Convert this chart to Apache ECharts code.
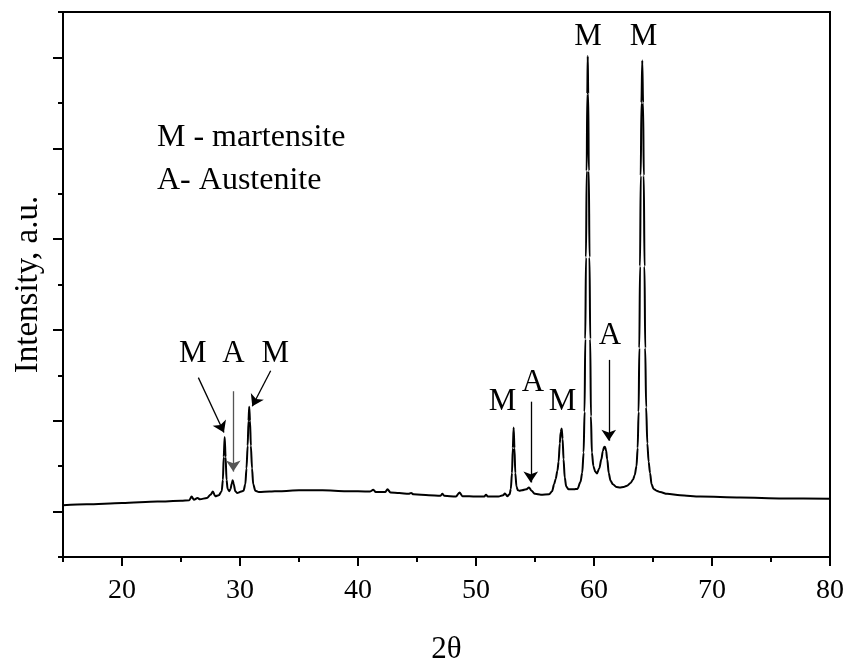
<!DOCTYPE html>
<html>
<head>
<meta charset="utf-8">
<script src="https://cdn.jsdelivr.net/npm/echarts@6/dist/echarts.min.js"></script>
<style>
  html, body { margin: 0; padding: 0; background: #fff; }
  #chart { width: 848px; height: 659px; }
</style>
</head>
<body>
<div id="chart"></div>
<script>
// XRD pattern (2θ in degrees, intensity in arbitrary units)
const twoTheta = [
  15, 17, 20, 23, 25, 25.7, 25.9, 26.1, 26.4, 26.6,
  27.2, 27.5, 27.7, 27.9, 28.2, 28.45, 28.55, 28.62, 28.7, 28.78,
  28.86, 28.95, 29.1, 29.2, 29.3, 29.38, 29.47, 29.6, 29.75, 30.1,
  30.3, 30.45, 30.55, 30.65, 30.72, 30.78, 30.85, 30.92, 31.02, 31.12,
  31.3, 31.6, 32.5, 33.4, 35, 37, 39, 41, 41.3, 41.5,
  42.3, 42.5, 42.75, 43.5, 44.3, 44.5, 44.7, 46, 47, 47.15,
  47.3, 48.3, 48.6, 48.85, 50, 50.7, 50.85, 51, 51.9, 52.3,
  52.45, 52.65, 52.85, 52.95, 53.05, 53.12, 53.19, 53.26, 53.33, 53.43,
  53.55, 53.67, 53.9, 54.25, 54.49, 54.7, 55, 55.5, 56.2, 56.45,
  56.62, 56.75, 56.9, 57, 57.1, 57.18, 57.26, 57.34, 57.42, 57.52,
  57.65, 57.85, 58.3, 58.6, 58.85, 59, 59.12, 59.2, 59.26, 59.32,
  59.38, 59.43, 59.47, 59.51, 59.56, 59.62, 59.68, 59.74, 59.82, 59.95,
  60.1, 60.25, 60.45, 60.62, 60.75, 60.85, 60.93, 61.02, 61.12, 61.25,
  61.4, 61.6, 61.9, 62.2, 62.5, 62.8, 63.1, 63.3, 63.45, 63.6,
  63.7, 63.78, 63.84, 63.9, 63.96, 64.02, 64.09, 64.16, 64.22, 64.28,
  64.34, 64.42, 64.52, 64.63, 64.75, 64.88, 65.05, 65.3, 65.6, 66.2,
  67.3, 69, 72.4, 76, 80
];
const intensity = [
  1.14, 1.16, 1.19, 1.22, 1.24, 1.25, 1.33, 1.26, 1.30, 1.27,
  1.30, 1.37, 1.44, 1.34, 1.36, 1.45, 1.7, 2.2, 2.64, 2.2,
  1.7, 1.5, 1.45, 1.5, 1.62, 1.69, 1.6, 1.45, 1.41, 1.44,
  1.46, 1.6, 1.95, 2.45, 3.0, 3.31, 3.0, 2.45, 1.95, 1.6,
  1.46, 1.43, 1.44, 1.45, 1.47, 1.47, 1.45, 1.44, 1.48, 1.43,
  1.43, 1.49, 1.42, 1.41, 1.39, 1.41, 1.38, 1.36, 1.35, 1.39,
  1.35, 1.33, 1.42, 1.34, 1.33, 1.33, 1.37, 1.33, 1.33, 1.36,
  1.40, 1.34, 1.38, 1.5, 1.85, 2.4, 2.85, 2.4, 1.85, 1.55,
  1.47, 1.46, 1.47, 1.49, 1.53, 1.46, 1.39, 1.37, 1.38, 1.45,
  1.6, 1.72, 1.9, 2.1, 2.5, 2.75, 2.83, 2.6, 2.15, 1.75,
  1.55, 1.49, 1.49, 1.5, 1.65, 1.85, 2.3, 3.2, 4.8, 6.6,
  8.5, 10.2, 11.03, 10.2, 8.5, 6.6, 4.8, 3.1, 2.3, 2.0,
  1.88, 1.84, 1.95, 2.15, 2.33, 2.42, 2.43, 2.35, 2.15, 1.85,
  1.68, 1.6, 1.54, 1.53, 1.54, 1.57, 1.63, 1.7, 1.8, 2.0,
  2.4, 3.2, 4.6, 6.4, 8.4, 10.0, 10.93, 10.0, 8.4, 6.4,
  4.6, 3.3, 2.5, 2.1, 1.85, 1.6, 1.5, 1.46, 1.43, 1.39,
  1.36, 1.33, 1.31, 1.29, 1.28
];

// axis ticks
const xLabelTicks = [20, 30, 40, 50, 60, 70, 80];
const xMinorTicks = [15, 25, 35, 45, 55, 65, 75];
const yMajorTicks = [1, 3, 5, 7, 9, 11];

// phase labels over the peaks (data coordinates)
const peakNames = ['M', 'A', 'M', 'M', 'A', 'M', 'M', 'M', 'A'];
const peakLabelX = [26.0, 29.45, 33.0, 52.25, 54.83, 57.33, 59.49, 64.19, 61.36];
const peakLabelY = [4.47, 4.47, 4.47, 3.41, 3.83, 3.41, 11.45, 11.45, 4.88];

// arrows pointing to the peaks
const arrowFrom = [[26.47, 3.95], [29.43, 3.65], [32.6, 4.10], [54.64, 3.42], [61.25, 4.34]];
const arrowTo = [[28.64, 2.74], [29.43, 1.88], [31.04, 3.32], [54.64, 1.64], [61.25, 2.56]];
const arrowColors = ['#000', '#555', '#000', '#000', '#000'];

const legendLines = ['M - martensite', 'A- Austenite'];

const FONT = '"Liberation Serif", "Times New Roman", serif';

const chart = echarts.init(document.getElementById('chart'));

const points = twoTheta.map((x, i) => [x, intensity[i]]);

chart.setOption({
  animation: false,
  backgroundColor: '#fff',
  grid: {
    left: 63, top: 12, right: 18, bottom: 102,
    outerBoundsMode: 'none',
    containLabel: false,
    show: true, borderColor: '#000', borderWidth: 2
  },
  xAxis: [{
    type: 'value', min: 15, max: 80,
    name: '2θ', nameLocation: 'middle', nameGap: 77,
    nameTextStyle: {fontFamily: FONT, fontSize: 31, color: '#000'},
    axisLine: {lineStyle: {color: '#000', width: 2}},
    axisTick: {customValues: xLabelTicks, length: 9, lineStyle: {color: '#000', width: 2}},
    axisLabel: {customValues: xLabelTicks, fontFamily: FONT, fontSize: 28, color: '#000', margin: 20},
    splitLine: {show: false}
  }, {
    type: 'value', min: 15, max: 80, position: 'bottom',
    axisLine: {show: false},
    axisTick: {customValues: xMinorTicks, length: 5, lineStyle: {color: '#000', width: 2}},
    axisLabel: {show: false},
    splitLine: {show: false}
  }],
  yAxis: [{
    type: 'value', min: 0, max: 12, interval: 1,
    name: 'Intensity, a.u.', nameLocation: 'middle', nameGap: 18,
    nameTextStyle: {fontFamily: FONT, fontSize: 33, color: '#000'},
    axisLine: {show: true, lineStyle: {color: '#000', width: 2}},
    axisTick: {show: true, length: 5, lineStyle: {color: '#000', width: 2}},
    axisLabel: {show: false},
    splitLine: {show: false}
  }, {
    type: 'value', min: 0, max: 12, position: 'left',
    axisLine: {show: false},
    axisTick: {show: true, customValues: yMajorTicks, length: 10, lineStyle: {color: '#000', width: 2}},
    axisLabel: {show: false},
    splitLine: {show: false}
  }],
  graphic: legendLines.map((t, i) => ({
    type: 'text', left: 157, top: 122 + i * 43,
    style: {text: t, fontFamily: FONT, fontSize: 32, fill: '#000'}
  })),
  series: [{
    type: 'line',
    data: points,
    showSymbol: false,
    smooth: 0.3,
    smoothMonotone: 'x',
    lineStyle: {color: '#000', width: 2},
    silent: true,
    markLine: {
      silent: true,
      symbol: ['none', 'arrow'],
      symbolSize: 11,
      label: {show: false},
      data: arrowFrom.map((p, i) => [
        {coord: p, lineStyle: {color: arrowColors[i], width: 1.3, type: 'solid'}, itemStyle: {color: arrowColors[i]}},
        {coord: arrowTo[i]}
      ])
    },
    markPoint: {
      silent: true,
      symbol: 'circle',
      symbolSize: 0,
      label: {
        show: true, position: 'inside', formatter: '{b}',
        fontFamily: FONT, fontSize: 31, color: '#000'
      },
      data: peakNames.map((n, i) => ({name: n, coord: [peakLabelX[i], peakLabelY[i]]}))
    }
  }]
});
</script>
</body>
</html>
